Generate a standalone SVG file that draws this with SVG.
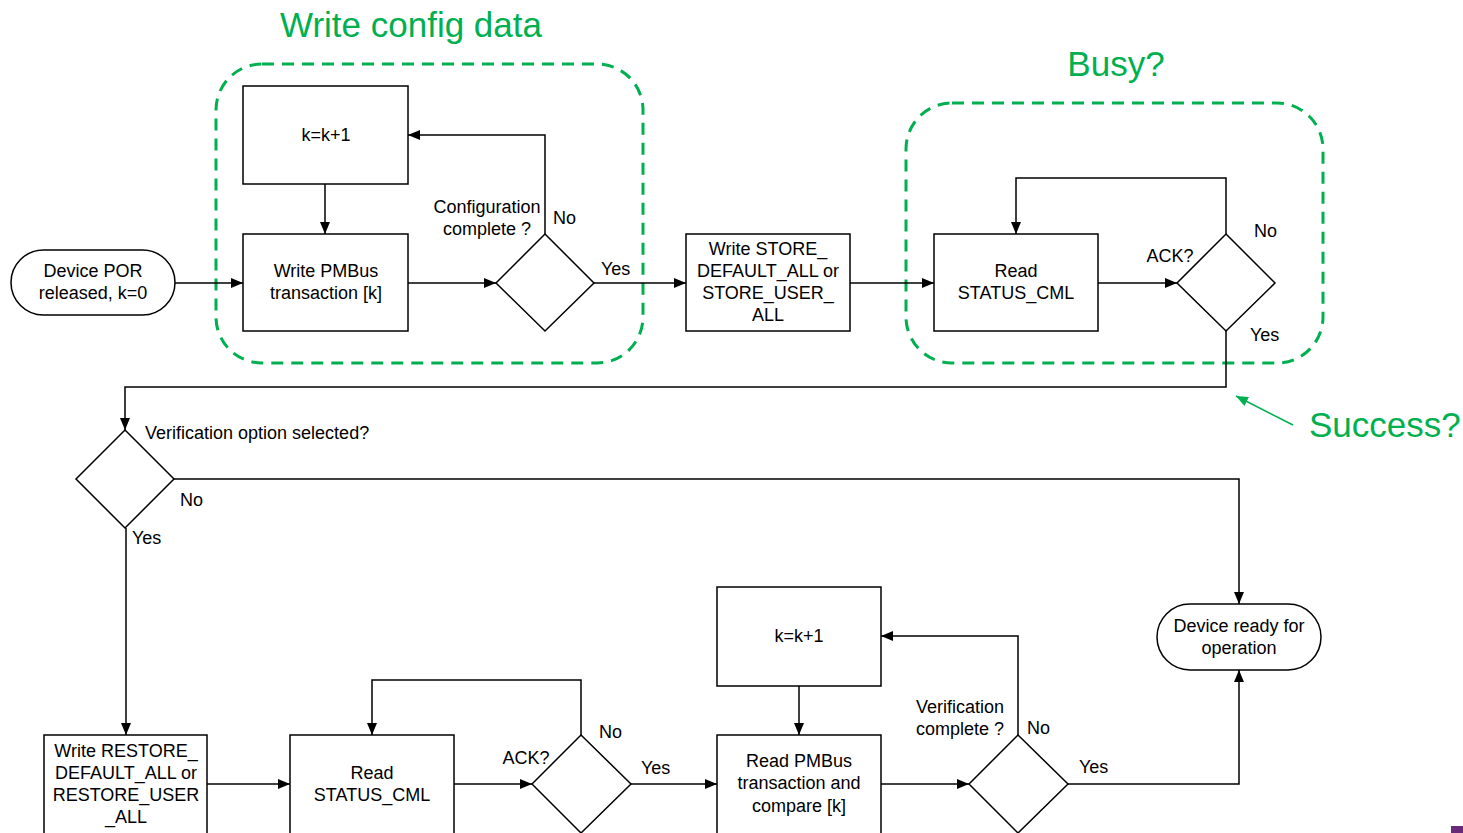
<svg xmlns="http://www.w3.org/2000/svg" width="1463" height="833" viewBox="0 0 1463 833">
  <defs>
    <marker id="arrow" viewBox="0 0 12 10" refX="12" refY="5" markerWidth="12" markerHeight="10" markerUnits="userSpaceOnUse" orient="auto">
      <path d="M0,0 L12,5 L0,10 Z" fill="#000"/>
    </marker>
    <marker id="arrowGreen" viewBox="0 0 12 10" refX="12" refY="5" markerWidth="12" markerHeight="10" markerUnits="userSpaceOnUse" orient="auto">
      <path d="M0,0 L12,5 L0,10 Z" fill="#00B050"/>
    </marker>
    <style>
      .box { fill: #fff; stroke: #000; stroke-width: 1.5; }
      .conn { fill: none; stroke: #000; stroke-width: 1.5; marker-end: url(#arrow); }
      .group { fill: none; stroke: #00B050; stroke-width: 3; stroke-dasharray: 12 8; }
      text { font-family: "Liberation Sans", Arial, sans-serif; font-size: 18px; fill: #000; }
      .c { text-anchor: middle; }
      .title { font-size: 35px; fill: #00B050; }
    </style>
  </defs>
  <rect width="1463" height="833" fill="#fff"/>

  <!-- Group outlines and titles -->
  <g id="group-write-config">
    <rect class="group" x="216" y="64" width="427" height="299" rx="46"/>
    <text class="title c" x="411" y="37">Write config data</text>
  </g>
  <g id="group-busy">
    <rect class="group" x="906" y="103" width="417" height="260" rx="46"/>
    <text class="title c" x="1116" y="76">Busy?</text>
  </g>
  <g id="note-success">
    <line x1="1293" y1="425" x2="1236" y2="396" stroke="#00B050" stroke-width="1.5" marker-end="url(#arrowGreen)"/>
    <text class="title" x="1309" y="437">Success?</text>
  </g>

  <!-- Connectors -->
  <g id="connectors">
    <line class="conn" x1="175" y1="283" x2="243" y2="283"/>
    <line class="conn" x1="325" y1="184" x2="325" y2="234"/>
    <line class="conn" x1="408" y1="283" x2="496" y2="283"/>
    <polyline class="conn" points="545,234 545,135 408,135"/>
    <line class="conn" x1="594" y1="283" x2="686" y2="283"/>
    <line class="conn" x1="850" y1="283" x2="934" y2="283"/>
    <line class="conn" x1="1098" y1="283" x2="1177" y2="283"/>
    <polyline class="conn" points="1226,234 1226,178 1016,178 1016,234"/>
    <polyline class="conn" points="1226,331 1226,387 125,387 125,430"/>
    <polyline class="conn" points="174,479 1239,479 1239,604"/>
    <line class="conn" x1="126" y1="528" x2="126" y2="735"/>
    <line class="conn" x1="207" y1="784" x2="290" y2="784"/>
    <line class="conn" x1="454" y1="784" x2="532" y2="784"/>
    <polyline class="conn" points="581,735 581,680 372,680 372,735"/>
    <line class="conn" x1="631" y1="784" x2="717" y2="784"/>
    <line class="conn" x1="799" y1="686" x2="799" y2="735"/>
    <line class="conn" x1="881" y1="784" x2="969" y2="784"/>
    <polyline class="conn" points="1018,735 1018,636 881,636"/>
    <polyline class="conn" points="1068,784 1239,784 1239,670"/>
  </g>

  <!-- Connector labels -->
  <g id="labels">
    <text class="c" x="487" y="213">Configuration</text>
    <text class="c" x="487" y="235">complete ?</text>
    <text x="553" y="224">No</text>
    <text x="601" y="275">Yes</text>
    <text class="c" x="1170" y="262">ACK?</text>
    <text x="1254" y="237">No</text>
    <text x="1250" y="341">Yes</text>
    <text x="145" y="439">Verification option selected?</text>
    <text x="180" y="506">No</text>
    <text x="132" y="544">Yes</text>
    <text class="c" x="526" y="764">ACK?</text>
    <text x="599" y="738">No</text>
    <text x="641" y="774">Yes</text>
    <text class="c" x="960" y="713">Verification</text>
    <text class="c" x="960" y="735">complete ?</text>
    <text x="1027" y="734">No</text>
    <text x="1079" y="773">Yes</text>
  </g>

  <!-- Nodes -->
  <g id="start">
    <rect class="box" x="11" y="250" width="164" height="65" rx="32.5"/>
    <text class="c" x="93" y="277">Device POR</text>
    <text class="c" x="93" y="299">released, k=0</text>
  </g>
  <g id="inc-write">
    <rect class="box" x="243" y="86" width="165" height="98"/>
    <text class="c" x="326" y="141">k=k+1</text>
  </g>
  <g id="write-pmbus">
    <rect class="box" x="243" y="234" width="165" height="97"/>
    <text class="c" x="326" y="277">Write PMBus</text>
    <text class="c" x="326" y="299">transaction [k]</text>
  </g>
  <g id="config-complete">
    <polygon class="box" points="545,234 594,283 545,331 496,283"/>
  </g>
  <g id="write-store">
    <rect class="box" x="686" y="234" width="164" height="97"/>
    <text class="c" x="768" y="255">Write STORE_</text>
    <text class="c" x="768" y="277">DEFAULT_ALL or</text>
    <text class="c" x="768" y="299">STORE_USER_</text>
    <text class="c" x="768" y="321">ALL</text>
  </g>
  <g id="read-status-1">
    <rect class="box" x="934" y="234" width="164" height="97"/>
    <text class="c" x="1016" y="277">Read</text>
    <text class="c" x="1016" y="299">STATUS_CML</text>
  </g>
  <g id="ack-1">
    <polygon class="box" points="1226,234 1275,283 1226,331 1177,283"/>
  </g>
  <g id="verify-option">
    <polygon class="box" points="125,430 174,479 125,528 76,479"/>
  </g>
  <g id="write-restore">
    <rect class="box" x="44" y="735" width="163" height="100"/>
    <text class="c" x="126" y="757">Write RESTORE_</text>
    <text class="c" x="126" y="779">DEFAULT_ALL or</text>
    <text class="c" x="126" y="801">RESTORE_USER</text>
    <text class="c" x="126" y="823">_ALL</text>
  </g>
  <g id="read-status-2">
    <rect class="box" x="290" y="735" width="164" height="100"/>
    <text class="c" x="372" y="779">Read</text>
    <text class="c" x="372" y="801">STATUS_CML</text>
  </g>
  <g id="ack-2">
    <polygon class="box" points="581,735 631,784 581,833 532,784"/>
  </g>
  <g id="inc-read">
    <rect class="box" x="717" y="587" width="164" height="99"/>
    <text class="c" x="799" y="642">k=k+1</text>
  </g>
  <g id="read-pmbus">
    <rect class="box" x="717" y="735" width="164" height="100"/>
    <text class="c" x="799" y="767">Read PMBus</text>
    <text class="c" x="799" y="789">transaction and</text>
    <text class="c" x="799" y="812">compare [k]</text>
  </g>
  <g id="verify-complete">
    <polygon class="box" points="1018,735 1068,784 1018,833 969,784"/>
  </g>
  <g id="ready">
    <rect class="box" x="1157" y="604" width="164" height="66" rx="33"/>
    <text class="c" x="1239" y="632">Device ready for</text>
    <text class="c" x="1239" y="654">operation</text>
  </g>

  <!-- corner swatch -->
  <rect x="1451" y="826" width="12" height="7" fill="#6a2a7a"/>
</svg>
